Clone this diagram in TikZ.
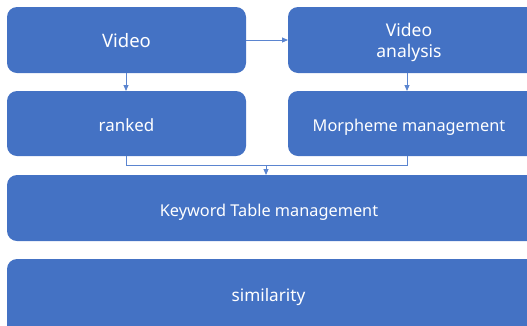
\documentclass[tikz,border=0pt]{standalone}
\usepackage{fontspec}
\setmainfont{Noto Sans}
\usetikzlibrary{arrows.meta}
\definecolor{boxblue}{HTML}{4472C4}
\definecolor{linkblue}{HTML}{5B85D0}
\begin{document}
\begin{tikzpicture}[x=1pt,y=-1pt,
  blk/.style={fill=boxblue,draw=none,rounded corners=10pt},
  lbl/.style={text=white,inner sep=0pt,anchor=base,align=center},
  link/.style={draw=linkblue,line width=0.9pt,-{Triangle[length=6pt,width=5pt]}},
  wire/.style={draw=linkblue,line width=0.9pt}]
\useasboundingbox (0,0) rectangle (527,325);
\begin{scope}
\clip (0,0) rectangle (527,325);
% rounded blocks
\path[blk] (7,7) rectangle (246,73);
\path[blk] (288,7) rectangle (537,73);
\path[blk] (7,91) rectangle (246,156);
\path[blk] (288,91) rectangle (537,156);
\path[blk] (7,175) rectangle (537,241);
\path[blk] (7,259) rectangle (537,340);
\end{scope}
% block labels
\node[lbl,font=\fontsize{18.5}{21}\selectfont] (video) at (126.5,47) {Video};
\node[lbl,font=\fontsize{17.5}{21.3}\selectfont] (analysis) at (409,57.3) {Video\\analysis};
\node[lbl,font=\fontsize{16.9}{19}\selectfont] (ranked) at (126.5,131) {ranked};
\node[lbl,font=\fontsize{16.3}{19}\selectfont] (morph) at (409,131) {Morpheme management};
\node[lbl,font=\fontsize{16.3}{19}\selectfont] (kw) at (269,216) {Keyword Table management};
\node[lbl,font=\fontsize{17.2}{19}\selectfont] (sim) at (268.5,301) {similarity};
% connection points on the block edges
\coordinate (videoE) at (246,40);
\coordinate (videoS) at (126,73);
\coordinate (analysisW) at (288,40);
\coordinate (analysisS) at (407,73);
\coordinate (rankedN) at (126,91);
\coordinate (rankedS) at (126,156);
\coordinate (morphN) at (407,91);
\coordinate (morphS) at (407,156);
\coordinate (kwN) at (266,175);
\coordinate (joinL) at (126,165.5);
\coordinate (joinR) at (407,165.5);
\coordinate (joinM) at (266,165.5);
% connectors
\draw[link] (videoE) -- (analysisW);
\draw[link] (videoS) -- (rankedN);
\draw[link] (analysisS) -- (morphN);
\draw[wire] (rankedS) -- (joinL) -- (joinR) -- (morphS);
\draw[link] (joinM) -- (kwN);
\end{tikzpicture}
\end{document}
